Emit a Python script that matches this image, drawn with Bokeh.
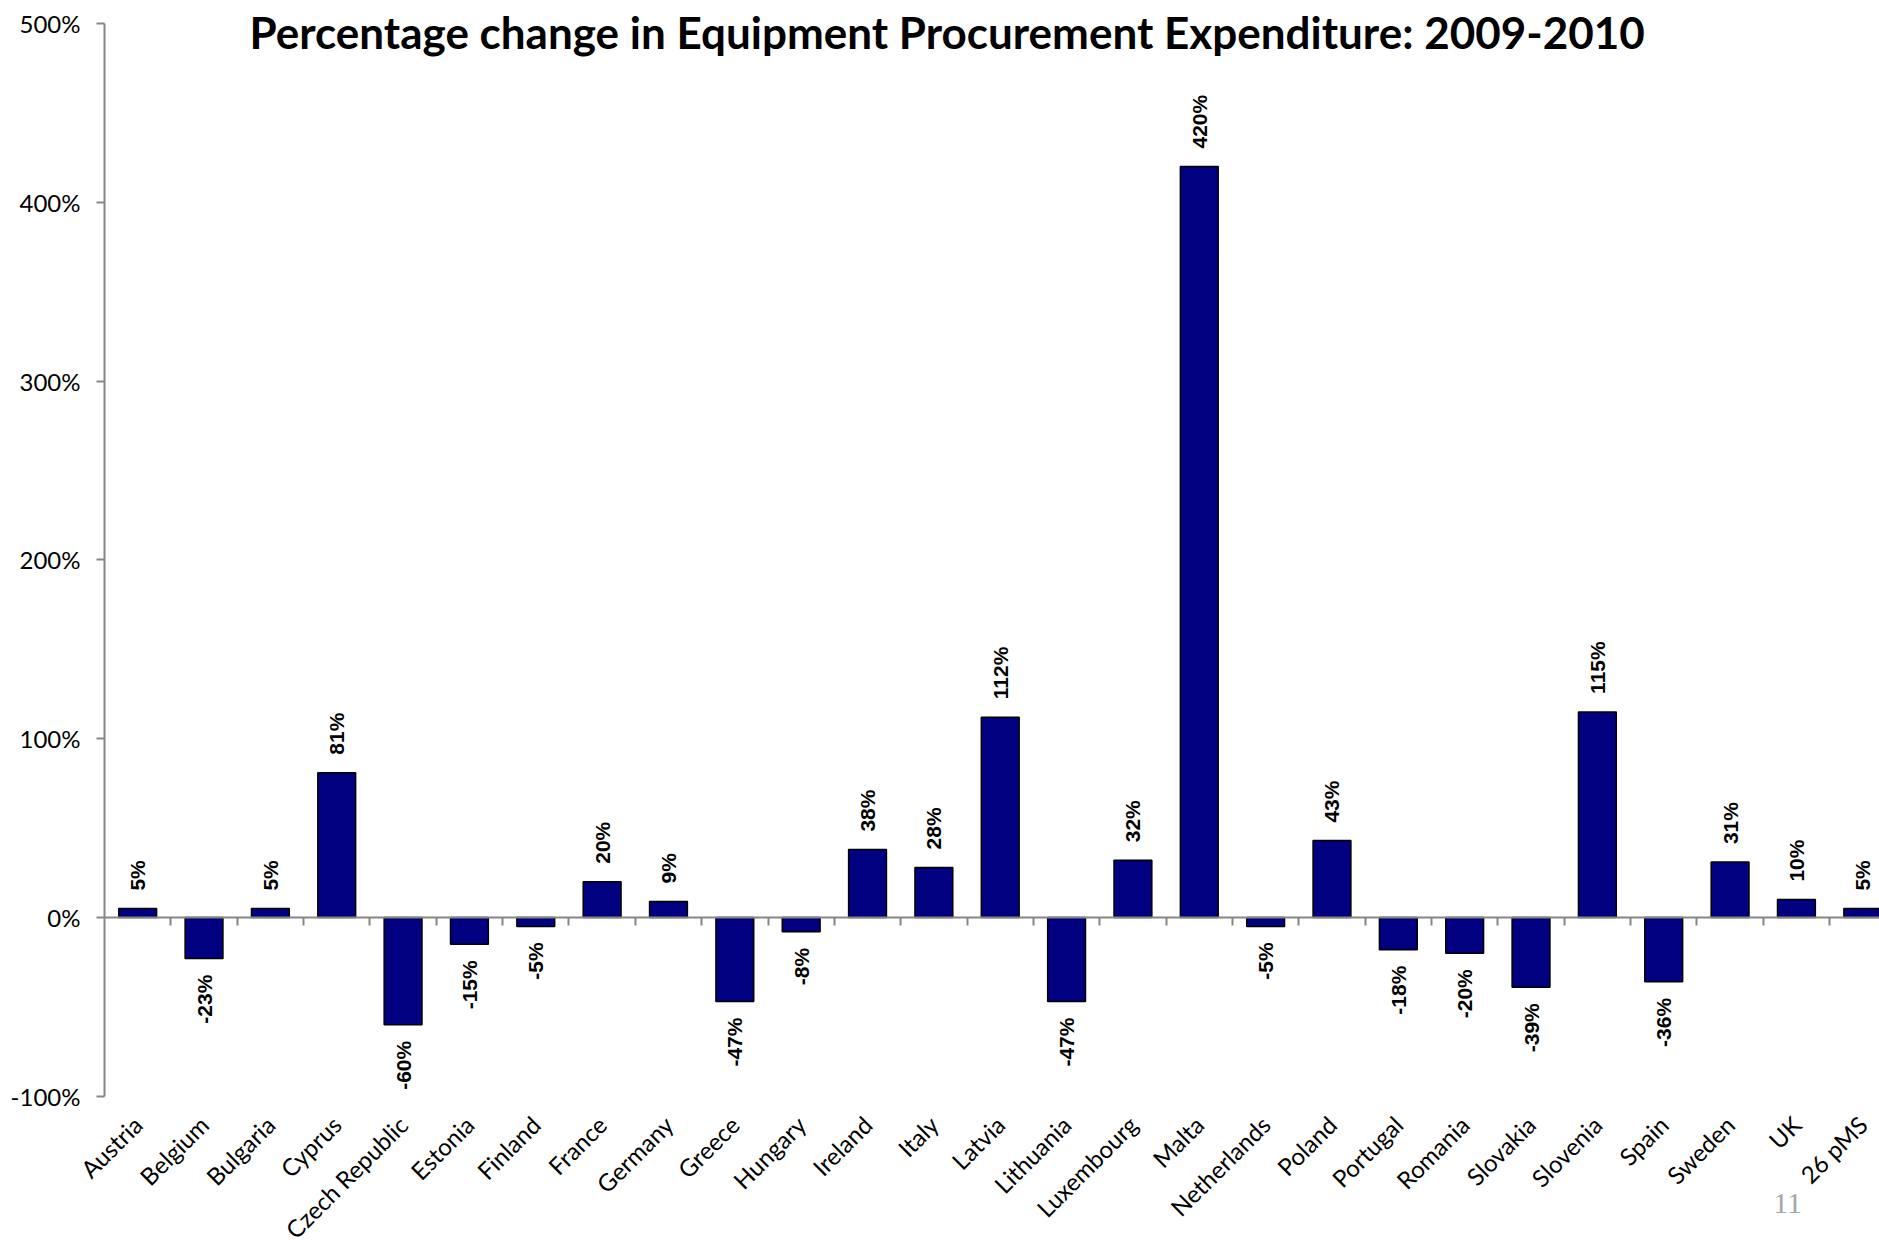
import math
from bokeh.plotting import figure
from bokeh.models import Range1d, FixedTicker, LinearAxis, Label, PrintfTickFormatter
from bokeh.embed import file_html
from bokeh.resources import INLINE
from bokeh.core.properties import value

# ---- data ----
countries = ["Austria", "Belgium", "Bulgaria", "Cyprus", "Czech Republic", "Estonia",
             "Finland", "France", "Germany", "Greece", "Hungary", "Ireland", "Italy",
             "Latvia", "Lithuania", "Luxembourg", "Malta", "Netherlands", "Poland",
             "Portugal", "Romania", "Slovakia", "Slovenia", "Spain", "Sweden", "UK", "26 pMS"]
pct_change = [5, -23, 5, 81, -60, -15, -5, 20, 9, -47, -8, 38, 28, 112, -47, 32, 420,
              -5, 43, -18, -20, -39, 115, -36, 31, 10, 5]
y_ticks = [-100, 0, 100, 200, 300, 400, 500]
title_text = "Percentage change in Equipment Procurement Expenditure: 2009-2010"
page_number = "11"

# ---- layout ----
W, H = 1879, 1244
LEFT = 104            # px: y axis position
TOP_PX = 23           # px: position of the 500% tick
UNIT_PX_X = 66.35     # px per category
UNIT_PX_Y = 1.788     # px per percentage point
n = len(countries)
centers = [i + 0.5 for i in range(n)]
boundaries = list(range(1, n))
x_start = -LEFT / UNIT_PX_X
x_end = (W - LEFT) / UNIT_PX_X
y_top, y_bottom = max(y_ticks), min(y_ticks)
y_end = y_top + TOP_PX / UNIT_PX_Y
y_start = y_top - (H - TOP_PX) / UNIT_PX_Y

AXIS_GRAY = "#868686"
BAR_COLOR = "#000080"

p = figure(width=W, height=H, x_range=Range1d(x_start, x_end), y_range=Range1d(y_start, y_end),
           output_backend="svg", toolbar_location=None,
           min_border_left=0, min_border_right=0, min_border_top=0,
           min_border_bottom=0)
p.grid.visible = False
p.outline_line_color = None

# category label axis, fixed at the bottom of the value range
xa = p.xaxis[0]
xa.fixed_location = y_bottom
xa.ticker = FixedTicker(ticks=centers)
xa.major_label_overrides = {c: name for c, name in zip(centers, countries)}
xa.major_label_orientation = math.pi / 4
xa.major_tick_line_color = None
xa.minor_tick_line_color = None
xa.axis_line_color = None
xa.major_label_standoff = 18
xa.major_label_text_font = "Lato"
xa.major_label_text_font_size = "24px"
xa.major_label_text_color = "black"

# zero line axis with ticks at category boundaries
za = LinearAxis(fixed_location=0, ticker=FixedTicker(ticks=boundaries), bounds=(0, x_end))
za.major_label_overrides = {b: "" for b in boundaries}
za.major_label_text_font_size = "0px"
za.axis_line_color = AXIS_GRAY
za.axis_line_width = 2
za.major_tick_line_color = AXIS_GRAY
za.major_tick_line_width = 2
za.major_tick_out = 8
za.major_tick_in = 0
za.minor_tick_line_color = None
p.add_layout(za, "below")

# y axis at x = 0
ya = p.yaxis[0]
ya.fixed_location = 0
ya.bounds = (y_bottom, y_top)
ya.ticker = FixedTicker(ticks=y_ticks)
ya.formatter = PrintfTickFormatter(format="%d%%")
ya.axis_line_color = AXIS_GRAY
ya.axis_line_width = 2
ya.major_tick_line_color = AXIS_GRAY
ya.major_tick_line_width = 2
ya.major_tick_out = 8
ya.major_tick_in = 0
ya.minor_tick_line_color = None
ya.major_label_standoff = 16
ya.major_label_text_font = "Lato"
ya.major_label_text_font_size = "24px"
ya.major_label_text_color = "black"

# bars
p.vbar(x=centers, top=pct_change, bottom=0, width=0.57,
       fill_color=BAR_COLOR, line_color="black", line_width=1.5)

# value labels
pos = [(c, v) for c, v in zip(centers, pct_change) if v >= 0]
neg = [(c, v) for c, v in zip(centers, pct_change) if v < 0]
common = dict(angle=math.pi / 2, text_baseline="middle",
              text_font=value("Liberation Sans"), text_font_style="bold",
              text_font_size="21px", text_color="black")
p.text(x=[c for c, v in pos], y=[v for c, v in pos], text=[f"{v}%" for c, v in pos],
       text_align="left", y_offset=-18, **common)
p.text(x=[c for c, v in neg], y=[v for c, v in neg], text=[f"{v}%" for c, v in neg],
       text_align="right", y_offset=16, **common)

# title
p.add_layout(Label(x=12.7, y=495.5, text=title_text, text_align="center",
                   text_baseline="alphabetic", text_font="Lato", text_font_style="bold",
                   text_font_size="44px", text_color="black"))

# page number
p.add_layout(Label(x=25.15, y=-160, text=page_number, text_align="left",
                   text_baseline="alphabetic", text_font="Liberation Serif",
                   text_font_size="30px", text_color="#a6a6a6"))

open("out.html", "w").write(file_html(p, INLINE))
